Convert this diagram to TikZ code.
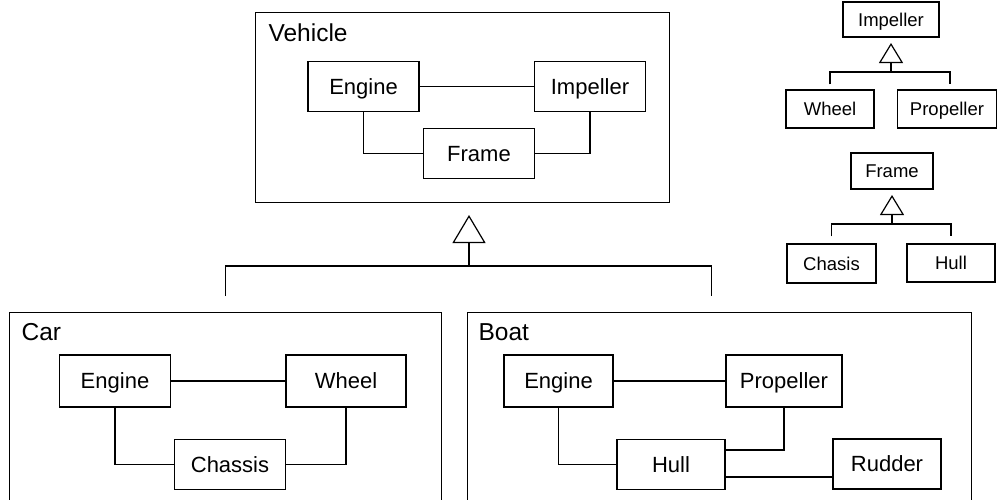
\documentclass[tikz,border=0pt]{standalone}
\usepackage{fontspec}
\setmainfont{Liberation Sans}
\usetikzlibrary{positioning, arrows.meta}

\begin{document}
\begin{tikzpicture}[x=1pt, y=-1pt, line width=1.2pt,
  frame/.style={rectangle, draw, anchor=north west, inner sep=0pt},
  part/.style={rectangle, draw, minimum width=111pt, minimum height=50pt, inner sep=0pt, text height=15.7pt, text depth=0pt, font=\fontsize{22}{26}\selectfont},
  small/.style={rectangle, draw, minimum width=88pt, minimum height=38pt, inner sep=0pt, text height=13.2pt, text depth=0pt, font=\fontsize{18.5}{22}\selectfont},
  title/.style={anchor=base west, inner sep=0pt, font=\fontsize{24.5}{28}\selectfont},
  gen/.style={-{Triangle[open, length=28pt, width=33pt]}},
  sgen/.style={-{Triangle[open, length=20pt, width=24pt]}}
]
\useasboundingbox (0,0) rectangle (997,499);

% Vehicle
\node[frame, minimum width=414pt, minimum height=190pt] (vehicle) at (255,12) {};
\node[title] (vtitle) at (268,41) {Vehicle};
\node[part] (veng) at (363.5,86.5) {Engine};
\node[part] (vimp) at (590,86.5) {Impeller};
\node[part] (vframe) at (479,153.5) {Frame};
\draw (veng) -- (vimp);
\draw (veng) |- (vframe);
\draw (vimp) |- (vframe);

% Car
\node[frame, minimum width=432pt, minimum height=205pt] (car) at (9,312) {};
\node[title] (ctitle) at (21,340) {Car};
\node[part, minimum height=52pt] (ceng) at (115,381) {Engine};
\node[part, minimum width=120pt, minimum height=52pt] (cwheel) at (346,381) {Wheel};
\node[part] (cchassis) at (230,464.5) {Chassis};
\draw (ceng) -- (cwheel);
\draw (ceng) |- (cchassis);
\draw (cwheel) |- (cchassis);

% Boat
\node[frame, minimum width=504pt, minimum height=205pt] (boat) at (467,312) {};
\node[title] (btitle) at (478,340) {Boat};
\node[part, minimum width=109pt, minimum height=52pt] (beng) at (558.5,381) {Engine};
\node[part, minimum width=116pt, minimum height=52pt] (bprop) at (784,381) {Propeller};
\node[part, minimum width=108pt] (bhull) at (671,464.5) {Hull};
\node[part, minimum width=108pt] (brud) at (887,464) {Rudder};
\draw (beng) -- (bprop);
\draw (beng) |- (bhull);
\draw (bprop) |- ([yshift=14.5pt]bhull.east);
\draw ([yshift=-12.5pt]bhull.east) -- ([yshift=-13pt]brud.west);

% Car and Boat inherit from Vehicle
\coordinate (vbar) at (469,266);
\coordinate (vtip) at (469,215);
\draw ([yshift=16pt]car.north) |- (vbar) -| ([xshift=-8pt, yshift=16pt]boat.north);
\draw[gen] (vbar) -- (vtip);

% Impeller kinds
\node[small, minimum width=96pt, minimum height=35pt] (simp) at (891,19.5) {Impeller};
\node[small] (swheel) at (830,109) {Wheel};
\node[small, minimum width=99pt] (sprop) at (947,109) {Propeller};
\coordinate (ibar) at (891,72);
\coordinate (itip) at (891,43);
\draw ([yshift=5pt]swheel.north) |- (ibar) -| ([xshift=3pt, yshift=5pt]sprop.north);
\draw[sgen] (ibar) -- (itip);

% Frame kinds
\node[small, minimum width=82pt, minimum height=36pt] (sframe) at (892,171) {Frame};
\node[small, minimum width=89pt, minimum height=39pt] (schasis) at (831.5,263.5) {Chasis};
\node[small] (shull) at (951,263) {Hull};
\coordinate (fbar) at (892,224);
\coordinate (ftip) at (892,195);
\draw ([yshift=7pt]schasis.north) |- (fbar) -| ([yshift=7pt]shull.north);
\draw[sgen] (fbar) -- (ftip);

\end{tikzpicture}
\end{document}
